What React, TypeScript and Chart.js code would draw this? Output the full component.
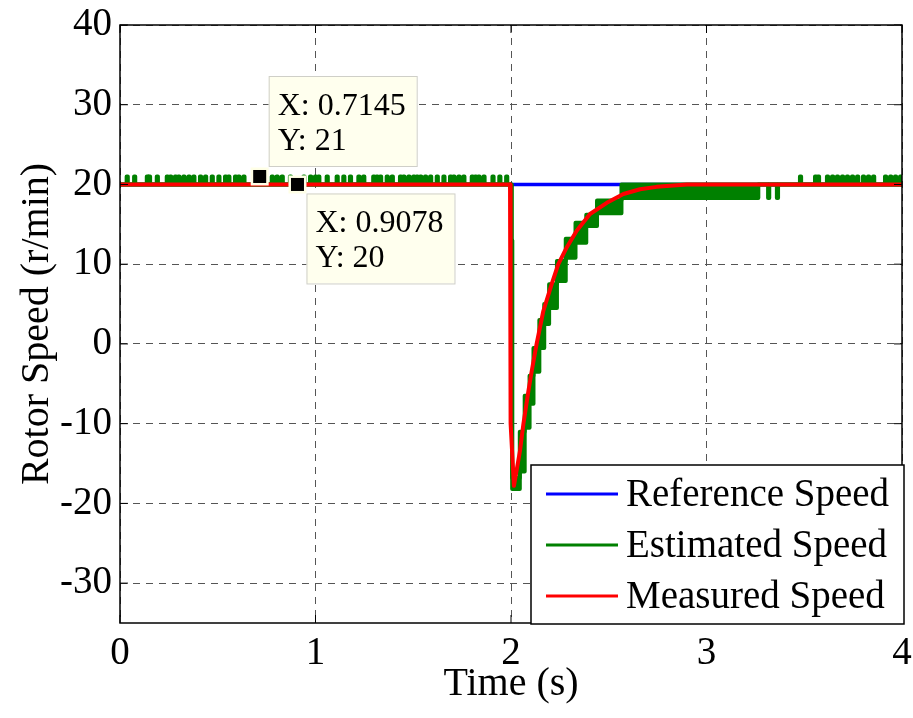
import React, { useEffect, useRef } from 'react';
import { Chart, registerables } from 'chart.js';

Chart.register(...registerables);

const FONT = '"Liberation Serif", "Times New Roman", Times, serif';

// ---- axes ----
const xTicks = [0, 1, 2, 3, 4];
const yTicks = [-30, -20, -10, 0, 10, 20, 30, 40];
const xLabel = 'Time (s)';
const yLabel = 'Rotor Speed (r/min)';

// ---- Reference speed ----
const refTimes = [0, 4];
const refValues = [20, 20];

// ---- Measured speed ----
const measTimes = [0, 1.995, 1.998, 2.015, 2.046, 2.063, 2.089, 2.106, 2.131, 2.165, 2.208, 2.242, 2.285, 2.336, 2.404, 2.49, 2.575, 2.66, 2.745, 2.9, 4];
const measValues = [20, 20, -10, -17.8, -13.4, -10.1, -5.9, -3.4, 0, 4.1, 7.5, 10, 12.1, 14.2, 16.3, 17.7, 18.8, 19.4, 19.7, 20, 20];

// ---- Estimated speed (quantised, toggling) ----
const estBase = 20;
const estUpPulseLevel = 21;
const estDownPulseLevel = 18.3;
const estPulseDuration = 0.006;
const estUpPulseTimes = [
  0.034, 0.072, 0.137, 0.148, 0.188, 0.239, 0.256, 0.281, 0.298, 0.324, 0.35, 0.375, 0.409, 0.435, 0.469,
  0.503, 0.537, 0.554, 0.588, 0.605, 0.631, 0.7145, 0.776, 0.801, 0.827, 0.869, 0.938, 0.972, 0.997, 1.014,
  1.057, 1.108, 1.142, 1.176, 1.219, 1.244, 1.295, 1.312, 1.33, 1.364, 1.39, 1.432, 1.449, 1.475, 1.5,
  1.517, 1.535, 1.56, 1.586, 1.62, 1.654, 1.688, 1.705, 1.731, 1.756, 1.799, 1.816, 1.833, 1.859, 1.905,
  1.94, 1.975,
  3.478, 3.555, 3.57, 3.616, 3.642, 3.667, 3.693, 3.718, 3.744, 3.77, 3.8, 3.826, 3.852, 3.913, 3.939, 3.964, 3.99,
];
const estDownPulseTimes = [3.315, 3.36];
// transient: from each time on, the signal toggles between bandLow and bandHigh
const estBandTimes = [2.003, 2.006, 2.045, 2.07, 2.095, 2.115, 2.145, 2.17, 2.195, 2.235, 2.28, 2.33, 2.385, 2.44, 2.565, 3.265];
const estBandHigh = [13, -16.8, -11, -6.5, -4, -0.5, 3, 5, 7.5, 10.4, 13.2, 15.2, 16.2, 18.0, 20, 20];
const estBandLow = [13, -18.2, -16, -10.5, -7.5, -3.5, -0.5, 2.5, 4.5, 7.9, 10.8, 12.7, 14.8, 16.4, 18.3, 20];

// ---- data tips ----
const tipX = [0.7145, 0.9078];
const tipY = [21, 20];
const tipSide = ['up', 'down'];

function buildEstimated() {
  const rows: [number, number, number][] = [[0, estBase, estBase]];
  for (const t of estUpPulseTimes) {
    rows.push([t, estUpPulseLevel, estBase], [t + estPulseDuration, estBase, estBase]);
  }
  for (const t of estDownPulseTimes) {
    rows.push([t, estBase, estDownPulseLevel], [t + estPulseDuration, estBase, estBase]);
  }
  estBandTimes.forEach((t, i) => rows.push([t, estBandHigh[i], estBandLow[i]]));
  rows.push([4, estBase, estBase]);
  rows.sort((a, b) => a[0] - b[0]);
  return {
    high: rows.map((r) => ({ x: r[0], y: r[1] })),
    low: rows.map((r) => ({ x: r[0], y: r[2] })),
  };
}

const frameAndMarkers = {
  id: 'frameAndMarkers',
  afterDatasetsDraw(chart: any) {
    const { ctx, chartArea: a, scales } = chart;
    ctx.save();
    ctx.strokeStyle = '#000';
    ctx.lineWidth = 1.5;
    ctx.setLineDash([]);
    ctx.strokeRect(a.left, a.top, a.right - a.left, a.bottom - a.top);
    const tl = 8;
    ctx.lineWidth = 1;
    ctx.beginPath();
    for (const v of xTicks) {
      const x = scales.x.getPixelForValue(v);
      ctx.moveTo(x, a.bottom); ctx.lineTo(x, a.bottom - tl);
      ctx.moveTo(x, a.top); ctx.lineTo(x, a.top + tl);
    }
    for (const v of yTicks) {
      const y = scales.y.getPixelForValue(v);
      ctx.moveTo(a.left, y); ctx.lineTo(a.left + tl, y);
      ctx.moveTo(a.right, y); ctx.lineTo(a.right - tl, y);
    }
    ctx.stroke();
    // data tip markers
    tipX.forEach((tx, i) => {
      const px = scales.x.getPixelForValue(tx);
      const py = scales.y.getPixelForValue(tipY[i]);
      ctx.fillStyle = '#FFFFE6';
      ctx.fillRect(px - 9, py - 9, 18, 18);
      ctx.fillStyle = '#000';
      ctx.fillRect(px - 6.5, py - 6.5, 13, 13);
    });
    ctx.restore();
  },
  afterDraw(chart: any) {
    const { ctx, chartArea: a, scales } = chart;
    ctx.save();
    // legend box
    const right = a.right + 2;
    const bottom = a.bottom + 1;
    const w = 373;
    const h = 159;
    const left = right - w;
    const top = bottom - h;
    ctx.fillStyle = '#fff';
    ctx.fillRect(left, top, w, h);
    ctx.strokeStyle = '#000';
    ctx.lineWidth = 1.5;
    ctx.strokeRect(left, top, w, h);
    const items = chart.data.datasets.filter((d: any) => d.label);
    items.forEach((d: any, i: number) => {
      const y = top + 29 + i * 51;
      ctx.strokeStyle = d.borderColor;
      ctx.lineWidth = 3;
      ctx.beginPath();
      ctx.moveTo(left + 15, y);
      ctx.lineTo(left + 87, y);
      ctx.stroke();
      ctx.fillStyle = '#000';
      ctx.font = `39px ${FONT}`;
      ctx.textBaseline = 'middle';
      ctx.textAlign = 'left';
      ctx.fillText(d.label, left + 95, y + 2);
    });
    // data tip boxes
    ctx.font = `32px ${FONT}`;
    ctx.textBaseline = 'alphabetic';
    tipX.forEach((tx, i) => {
      const px = scales.x.getPixelForValue(tx);
      const py = scales.y.getPixelForValue(tipY[i]);
      const l1 = `X: ${tx}`;
      const l2 = `Y: ${tipY[i]}`;
      const bw = Math.max(ctx.measureText(l1).width, ctx.measureText(l2).width) + 20;
      const bh = 90;
      const bx = px + 9;
      const by = tipSide[i] === 'up' ? py - 10.5 - bh : py + 9;
      ctx.fillStyle = '#FFFFEE';
      ctx.fillRect(bx, by, bw, bh);
      ctx.strokeStyle = '#CFCFC8';
      ctx.lineWidth = 1;
      ctx.strokeRect(bx + 0.5, by + 0.5, bw, bh);
      ctx.fillStyle = '#000';
      ctx.fillText(l1, bx + 9, by + 39);
      ctx.fillText(l2, bx + 9, by + 74);
    });
    ctx.restore();
  },
};

export default function App() {
  const ref = useRef<HTMLCanvasElement>(null);
  useEffect(() => {
    const est = buildEstimated();
    const chart = new Chart(ref.current!, {
      type: 'line',
      data: {
        datasets: [
          {
            label: 'Reference Speed',
            data: refTimes.map((t, i) => ({ x: t, y: refValues[i] })),
            borderColor: '#0000FF',
            borderWidth: 3.5,
            pointRadius: 0,
            fill: false,
            order: 3,
          },
          {
            label: 'Estimated Speed',
            data: est.high,
            borderColor: '#008000',
            backgroundColor: '#008000',
            borderWidth: 4,
            stepped: true,
            pointRadius: 0,
            fill: false,
            borderJoinStyle: 'round',
            borderCapStyle: 'round',
            order: 2,
          },
          {
            label: '',
            data: est.low,
            borderColor: '#008000',
            backgroundColor: '#008000',
            borderWidth: 4,
            stepped: true,
            pointRadius: 0,
            fill: '-1',
            borderJoinStyle: 'round',
            borderCapStyle: 'round',
            order: 2,
          },
          {
            label: 'Measured Speed',
            data: measTimes.map((t, i) => ({ x: t, y: measValues[i] })),
            borderColor: '#FF0000',
            borderWidth: 4,
            pointRadius: 0,
            fill: false,
            borderJoinStyle: 'round',
            order: 1,
          },
        ],
      } as any,
      options: {
        animation: false,
        responsive: false,
        events: [],
        layout: { padding: { left: 0, top: 25, right: 11, bottom: 0 } },
        plugins: {
          legend: { display: false },
          tooltip: { enabled: false },
        },
        scales: {
          x: {
            type: 'linear',
            min: 0,
            max: 4,
            afterBuildTicks: (s: any) => {
              s.ticks = xTicks.map((v) => ({ value: v }));
            },
            afterFit: (s: any) => {
              s.height = 95;
              s.paddingLeft = 0;
              s.paddingRight = 0;
            },
            ticks: {
              font: { family: FONT, size: 39 },
              color: '#000',
              padding: 7,
              maxRotation: 0,
              autoSkip: false,
            },
            grid: { color: '#555', lineWidth: 1, drawTicks: false },
            border: { display: false, dash: [7, 6] },
            title: {
              display: true,
              text: xLabel,
              font: { family: FONT, size: 40 },
              color: '#000',
              padding: { top: 0, bottom: 10 },
            },
          },
          y: {
            type: 'linear',
            min: -35,
            max: 40,
            afterBuildTicks: (s: any) => {
              s.ticks = yTicks.map((v) => ({ value: v }));
            },
            afterFit: (s: any) => {
              s.width = 120;
              s.paddingTop = 0;
              s.paddingBottom = 0;
            },
            ticks: {
              font: { family: FONT, size: 39 },
              color: '#000',
              padding: 8,
              autoSkip: false,
            },
            grid: { color: '#555', lineWidth: 1, drawTicks: false },
            border: { display: false, dash: [7, 6] },
            title: {
              display: true,
              text: yLabel,
              font: { family: FONT, size: 40 },
              color: '#000',
              padding: { top: 13, bottom: 0 },
            },
          },
        },
      } as any,
      plugins: [frameAndMarkers],
    });
    return () => chart.destroy();
  }, []);
  return (
    <div style={{ position: 'absolute', left: 0, top: 0, width: 913, height: 718, background: '#fff' }}>
      <canvas ref={ref} width={913} height={718} style={{ display: 'block', width: 913, height: 718 }} />
    </div>
  );
}
